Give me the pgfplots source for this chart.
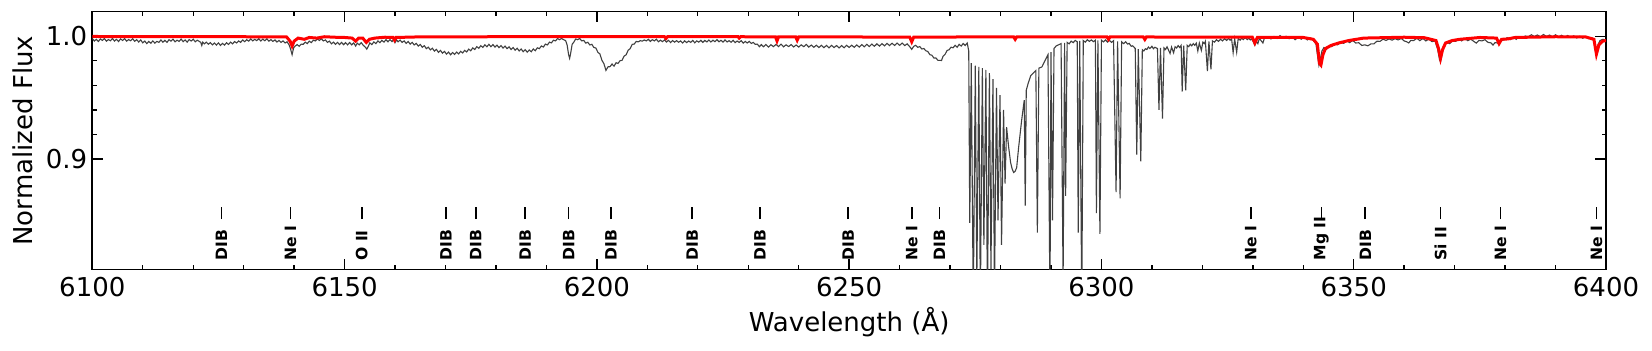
\documentclass[border=0pt]{standalone}
\usepackage{pgfplots}
\pgfplotsset{compat=1.18}
\usepackage{fontspec}
\setmainfont{DejaVu Sans}
\definecolor{specgray}{HTML}{404040}

% line marker + rotated label below it
\newcommand{\lbl}[2]{%
  \draw[black, line width=0.85pt] (axis cs:#1,0.851) -- (axis cs:#1,0.861);
  \node[rotate=90, anchor=west, inner sep=0pt, font=\fontsize{7.8}{9}\selectfont\bfseries] at (axis cs:#1,0.8170) {#2};
}

\begin{document}
\begin{tikzpicture}
\useasboundingbox (-46.15pt,-40.75pt) rectangle (779.85pt,134.75pt);
\begin{axis}[
  at={(0,0)}, anchor=south west,
  scale only axis,
  width=756.85pt, height=128.9pt,
  xmin=6100, xmax=6400, ymin=0.81, ymax=1.02,
  xtick={6100,6150,...,6400}, ytick={0.9,1.0},
  minor x tick num=4, minor y tick num=4,
  tick align=inside, xtick pos=both, ytick pos=both,
  major tick length=5.35pt, minor tick length=2.25pt,
  axis line style={line width=0.8pt},
  every tick/.style={black, line width=0.7pt},
  clip mode=individual,
  tick label style={font=\fontsize{13}{15}\selectfont, /pgf/number format/assume math mode=true},
  xticklabel style={/pgf/number format/1000 sep={}, anchor=base, yshift=-13.6pt},
  yticklabel style={/pgf/number format/fixed, /pgf/number format/fixed zerofill, /pgf/number format/precision=1, anchor=east, xshift=1pt},
  xlabel={Wavelength (Å)}, ylabel={Normalized Flux},
  label style={font=\fontsize{13}{15}\selectfont},
  x label style={at={(axis description cs:0.5,0)}, anchor=base, yshift=-31.1pt},
  y label style={at={(axis description cs:-0.0458,0.5)}, anchor=center},
]
% observed spectrum
\addplot[specgray, line width=0.55pt] table {
x y
6100.0 0.9982
6100.4 0.9961
6100.8 0.9975
6101.2 0.9957
6101.6 0.9978
6102.0 0.9966
6102.4 0.9981
6102.8 0.9960
6103.2 0.9973
6103.6 0.9963
6104.0 0.9982
6104.4 0.9961
6104.8 0.9975
6105.2 0.9957
6105.6 0.9978
6106.0 0.9966
6106.4 0.9981
6106.8 0.9960
6107.2 0.9973
6107.6 0.9963
6108.0 0.9980
6108.4 0.9959
6108.8 0.9972
6109.2 0.9953
6109.6 0.9970
6110.0 0.9946
6110.4 0.9961
6110.8 0.9940
6111.2 0.9958
6111.6 0.9943
6112.0 0.9962
6112.4 0.9944
6112.8 0.9958
6113.2 0.9950
6113.6 0.9970
6114.0 0.9951
6114.4 0.9967
6114.8 0.9950
6115.2 0.9972
6115.6 0.9960
6116.0 0.9976
6116.4 0.9955
6116.8 0.9968
6117.2 0.9958
6117.6 0.9977
6118.0 0.9956
6118.4 0.9970
6118.8 0.9952
6119.2 0.9973
6119.6 0.9961
6120.0 0.9976
6120.4 0.9955
6120.8 0.9968
6121.2 0.9958
6121.5 0.9950
6121.7 0.9925
6121.9 0.9952
6122.2 0.9938
6122.6 0.9952
6123.0 0.9935
6123.4 0.9948
6123.8 0.9930
6124.2 0.9945
6124.6 0.9928
6125.0 0.9946
6125.4 0.9925
6125.8 0.9942
6126.2 0.9928
6126.6 0.9947
6127.0 0.9933
6127.4 0.9952
6127.8 0.9938
6128.2 0.9957
6128.6 0.9945
6129.0 0.9962
6129.4 0.9950
6129.8 0.9970
6130.2 0.9956
6130.6 0.9972
6131.0 0.9960
6131.4 0.9978
6131.8 0.9962
6132.2 0.9975
6132.6 0.9964
6133.0 0.9980
6133.4 0.9961
6133.8 0.9977
6134.2 0.9963
6134.6 0.9979
6135.0 0.9960
6135.4 0.9972
6135.8 0.9958
6136.2 0.9970
6136.6 0.9953
6137.0 0.9966
6137.4 0.9950
6137.8 0.9962
6138.2 0.9945
6138.6 0.9955
6139.0 0.9930
6139.3 0.9895
6139.6 0.9850
6139.9 0.9905
6140.2 0.9920
6140.6 0.9932
6141.0 0.9918
6141.4 0.9936
6141.8 0.9934
6142.2 0.9952
6142.6 0.9940
6143.0 0.9960
6143.4 0.9948
6143.8 0.9968
6144.2 0.9962
6144.6 0.9978
6145.0 0.9966
6145.4 0.9979
6145.8 0.9962
6146.2 0.9970
6146.6 0.9950
6147.0 0.9960
6147.4 0.9938
6147.8 0.9952
6148.2 0.9934
6148.6 0.9950
6149.0 0.9932
6149.4 0.9950
6149.8 0.9931
6150.2 0.9948
6150.6 0.9930
6151.0 0.9949
6151.4 0.9930
6151.8 0.9946
6152.2 0.9920
6152.5 0.9944
6152.9 0.9930
6153.3 0.9948
6153.7 0.9926
6154.1 0.9912
6154.4 0.9895
6154.7 0.9918
6155.0 0.9946
6155.4 0.9932
6155.8 0.9954
6156.2 0.9940
6156.6 0.9962
6157.0 0.9948
6157.4 0.9967
6157.8 0.9952
6158.2 0.9972
6158.6 0.9955
6159.0 0.9973
6159.4 0.9957
6159.8 0.9974
6160.0 0.9948
6160.3 0.9971
6160.6 0.9955
6161.0 0.9969
6161.4 0.9950
6161.8 0.9962
6162.2 0.9942
6162.6 0.9957
6163.0 0.9936
6163.4 0.9950
6163.8 0.9929
6164.2 0.9942
6164.6 0.9920
6165.0 0.9933
6165.4 0.9910
6165.8 0.9923
6166.2 0.9899
6166.6 0.9911
6167.0 0.9889
6167.4 0.9902
6167.8 0.9879
6168.2 0.9893
6168.6 0.9869
6169.0 0.9885
6169.4 0.9862
6169.8 0.9877
6170.2 0.9854
6170.6 0.9871
6171.0 0.9849
6171.4 0.9867
6171.8 0.9852
6172.2 0.9871
6172.6 0.9856
6173.0 0.9877
6173.4 0.9864
6173.8 0.9885
6174.2 0.9872
6174.6 0.9895
6175.0 0.9882
6175.4 0.9905
6175.8 0.9892
6176.2 0.9915
6176.6 0.9902
6177.0 0.9923
6177.4 0.9909
6177.8 0.9930
6178.2 0.9914
6178.6 0.9934
6179.0 0.9915
6179.4 0.9932
6179.8 0.9912
6180.2 0.9928
6180.6 0.9907
6181.0 0.9924
6181.4 0.9904
6181.8 0.9920
6182.2 0.9899
6182.6 0.9914
6183.0 0.9892
6183.4 0.9908
6183.8 0.9886
6184.2 0.9902
6184.6 0.9880
6185.0 0.9896
6185.4 0.9874
6185.8 0.9890
6186.2 0.9870
6186.6 0.9888
6187.0 0.9874
6187.4 0.9896
6187.8 0.9882
6188.2 0.9906
6188.6 0.9899
6189.0 0.9921
6189.4 0.9912
6189.8 0.9936
6190.2 0.9929
6190.6 0.9952
6191.0 0.9946
6191.4 0.9968
6191.8 0.9962
6192.2 0.9981
6192.6 0.9972
6193.0 0.9982
6193.4 0.9972
6193.8 0.9965
6194.1 0.9930
6194.4 0.9850
6194.6 0.9820
6194.8 0.9860
6195.1 0.9935
6195.4 0.9950
6195.8 0.9978
6196.2 0.9972
6196.6 0.9982
6197.0 0.9962
6197.4 0.9966
6197.8 0.9944
6198.2 0.9951
6198.6 0.9929
6199.0 0.9934
6199.4 0.9909
6199.8 0.9904
6200.2 0.9869
6200.6 0.9856
6201.0 0.9804
6201.4 0.9776
6201.8 0.9722
6202.2 0.9751
6202.6 0.9752
6203.0 0.9774
6203.4 0.9756
6203.8 0.9784
6204.2 0.9779
6204.6 0.9801
6205.0 0.9804
6205.4 0.9838
6205.8 0.9849
6206.2 0.9886
6206.6 0.9899
6207.0 0.9934
6207.4 0.9936
6207.8 0.9958
6208.2 0.9954
6208.6 0.9964
6209.0 0.9960
6209.4 0.9970
6209.8 0.9962
6210.2 0.9975
6210.6 0.9958
6211.0 0.9972
6211.4 0.9962
6211.8 0.9976
6212.2 0.9955
6212.6 0.9968
6213.0 0.9956
6213.4 0.9970
6213.8 0.9953
6214.2 0.9967
6214.6 0.9949
6215.0 0.9965
6215.4 0.9952
6215.8 0.9964
6216.2 0.9951
6216.6 0.9962
6217.0 0.9945
6217.4 0.9963
6217.8 0.9948
6218.2 0.9961
6218.6 0.9950
6219.0 0.9966
6219.4 0.9947
6219.8 0.9962
6220.2 0.9952
6220.6 0.9967
6221.0 0.9950
6221.4 0.9966
6221.8 0.9954
6222.2 0.9970
6222.6 0.9953
6223.0 0.9968
6223.4 0.9956
6223.8 0.9972
6224.2 0.9955
6224.6 0.9967
6225.0 0.9952
6225.4 0.9970
6225.8 0.9953
6226.2 0.9964
6226.6 0.9951
6227.0 0.9967
6227.4 0.9948
6227.8 0.9961
6228.2 0.9950
6228.6 0.9964
6229.0 0.9944
6229.4 0.9958
6229.8 0.9945
6230.2 0.9958
6230.6 0.9941
6231.0 0.9950
6231.4 0.9934
6231.8 0.9936
6232.2 0.9915
6232.6 0.9932
6233.0 0.9914
6233.5 0.9933
6234.0 0.9912
6234.5 0.9931
6235.0 0.9915
6235.5 0.9934
6236.0 0.9916
6236.5 0.9935
6237.0 0.9914
6237.5 0.9930
6238.0 0.9916
6238.5 0.9932
6239.0 0.9913
6239.5 0.9929
6240.0 0.9912
6240.5 0.9930
6241.0 0.9915
6241.5 0.9933
6242.0 0.9912
6242.5 0.9928
6243.0 0.9910
6243.5 0.9927
6244.0 0.9908
6244.5 0.9926
6245.0 0.9907
6245.5 0.9925
6246.0 0.9906
6246.5 0.9926
6247.0 0.9908
6247.5 0.9924
6248.0 0.9905
6248.5 0.9924
6249.0 0.9906
6249.5 0.9926
6250.0 0.9909
6250.5 0.9927
6251.0 0.9910
6251.5 0.9929
6252.0 0.9912
6252.5 0.9932
6253.0 0.9914
6253.5 0.9934
6254.0 0.9916
6254.5 0.9936
6255.0 0.9918
6255.5 0.9938
6256.0 0.9920
6256.5 0.9940
6257.0 0.9922
6257.5 0.9942
6258.0 0.9924
6258.5 0.9943
6259.0 0.9925
6259.5 0.9944
6260.0 0.9926
6260.5 0.9944
6261.0 0.9924
6261.5 0.9938
6262.0 0.9915
6262.4 0.9893
6262.8 0.9918
6263.2 0.9926
6263.6 0.9910
6264.0 0.9916
6264.4 0.9896
6264.8 0.9900
6265.2 0.9882
6265.6 0.9875
6266.0 0.9850
6266.4 0.9845
6266.8 0.9822
6267.2 0.9823
6267.6 0.9803
6268.0 0.9804
6268.3 0.9802
6268.6 0.9836
6269.0 0.9852
6269.4 0.9884
6269.8 0.9890
6270.2 0.9911
6270.6 0.9906
6271.0 0.9926
6271.4 0.9910
6271.8 0.9934
6272.2 0.9920
6272.6 0.9941
6273.0 0.9925
6273.4 0.9945
6273.7 0.9880
6273.9 0.8480
6274.2 0.9780
6274.6 0.7800
6275.0 0.9760
6275.3 0.8000
6275.7 0.9750
6276.0 0.7800
6276.4 0.9740
6276.7 0.8300
6277.1 0.9725
6277.4 0.7800
6277.8 0.9700
6278.1 0.8100
6278.5 0.9650
6278.8 0.7900
6279.2 0.9580
6279.5 0.8500
6279.9 0.9520
6280.2 0.8300
6280.6 0.9400
6280.9 0.8800
6281.2 0.9260
6281.6 0.9100
6282.0 0.8970
6282.3 0.8920
6282.6 0.8890
6282.9 0.8900
6283.2 0.8930
6283.6 0.9100
6284.2 0.9320
6284.7 0.9480
6284.9 0.8620
6285.1 0.9560
6285.5 0.9620
6286.0 0.9680
6286.5 0.9700
6287.0 0.9720
6287.3 0.8400
6287.6 0.9740
6288.2 0.9750
6288.8 0.9800
6289.4 0.9850
6289.8 0.7800
6290.0 0.9870
6290.3 0.8500
6290.6 0.9900
6291.0 0.9920
6291.5 0.9930
6292.0 0.9940
6292.4 0.8000
6292.7 0.9945
6292.9 0.8700
6293.2 0.9950
6293.6 0.9938
6294.0 0.9960
6294.4 0.9948
6294.8 0.9966
6295.2 0.9955
6295.4 0.8400
6295.7 0.9963
6296.1 0.7800
6296.4 0.9965
6296.8 0.9952
6297.2 0.9972
6297.6 0.9958
6298.0 0.9970
6298.4 0.9956
6298.8 0.9968
6299.0 0.8560
6299.3 0.9966
6299.7 0.8390
6300.0 0.9968
6300.4 0.9954
6300.8 0.9970
6301.2 0.9952
6301.6 0.9966
6302.0 0.9950
6302.4 0.9964
6302.9 0.8730
6303.2 0.9958
6303.7 0.8680
6304.0 0.9955
6304.4 0.9940
6304.8 0.9955
6305.2 0.9936
6305.5 0.9942
6305.9 0.9918
6306.2 0.9922
6306.7 0.9900
6307.0 0.9035
6307.3 0.9895
6307.8 0.8980
6308.1 0.9890
6308.4 0.9880
6308.7 0.9898
6309.0 0.9892
6309.3 0.9912
6309.6 0.9900
6310.0 0.9918
6310.3 0.9898
6310.6 0.9910
6311.1 0.9900
6311.4 0.9400
6311.7 0.9905
6312.1 0.9330
6312.4 0.9905
6312.7 0.9892
6313.0 0.9914
6313.6 0.9860
6313.9 0.9912
6314.3 0.9865
6314.6 0.9915
6314.9 0.9904
6315.2 0.9924
6315.5 0.9908
6315.8 0.9926
6316.0 0.9550
6316.3 0.9924
6316.7 0.9560
6317.0 0.9926
6317.3 0.9915
6317.6 0.9935
6317.9 0.9922
6318.2 0.9940
6318.5 0.9926
6318.8 0.9944
6319.1 0.9880
6319.4 0.9945
6319.8 0.9885
6320.1 0.9952
6320.4 0.9940
6320.6 0.9958
6321.0 0.9716
6321.3 0.9958
6321.7 0.9730
6322.0 0.9962
6322.4 0.9952
6322.8 0.9972
6323.2 0.9958
6323.6 0.9976
6324.0 0.9962
6324.4 0.9980
6324.8 0.9966
6325.2 0.9982
6325.5 0.9968
6325.8 0.9978
6326.1 0.9867
6326.4 0.9978
6326.8 0.9870
6327.1 0.9980
6327.5 0.9968
6327.8 0.9986
6328.1 0.9972
6328.5 0.9988
6328.9 0.9972
6329.2 0.9984
6329.5 0.9970
6329.8 0.9976
6330.1 0.9955
6330.4 0.9927
6330.7 0.9958
6331.0 0.9940
6331.3 0.9982
6332.0 0.9945
6332.3 0.9985
6333.0 0.9995
6333.6 0.9978
6334.2 0.9998
6334.8 0.9982
6335.4 1.0005
6336.0 0.9984
6336.6 1.0000
6337.2 0.9980
6337.8 0.9996
6338.4 0.9972
6339.0 0.9993
6339.6 0.9976
6340.2 0.9992
6340.8 0.9970
6341.4 0.9986
6342.0 0.9965
6342.5 0.9940
6342.8 0.9850
6343.1 0.9765
6343.4 0.9820
6343.7 0.9880
6344.1 0.9908
6344.6 0.9893
6345.1 0.9920
6345.6 0.9915
6346.2 0.9938
6346.8 0.9930
6347.4 0.9950
6348.0 0.9942
6348.6 0.9963
6349.2 0.9948
6349.8 0.9966
6350.4 0.9945
6351.0 0.9947
6351.6 0.9925
6352.2 0.9930
6352.8 0.9922
6353.4 0.9938
6354.0 0.9938
6354.6 0.9960
6355.2 0.9958
6355.8 0.9976
6356.4 0.9966
6357.0 0.9978
6357.6 0.9968
6358.2 0.9980
6358.8 0.9970
6359.4 0.9982
6360.0 0.9962
6360.5 0.9955
6360.9 0.9945
6361.3 0.9966
6361.9 0.9965
6362.5 0.9984
6363.1 0.9964
6363.7 0.9982
6364.3 0.9962
6364.9 0.9977
6365.5 0.9956
6366.1 0.9962
6366.6 0.9900
6367.0 0.9810
6367.2 0.9790
6367.5 0.9850
6367.9 0.9930
6368.4 0.9952
6369.0 0.9940
6369.6 0.9962
6370.2 0.9958
6370.8 0.9978
6371.4 0.9962
6372.0 0.9982
6372.6 0.9964
6373.2 0.9976
6373.8 0.9958
6374.3 0.9944
6374.8 0.9966
6375.4 0.9962
6376.0 0.9972
6376.6 0.9950
6377.2 0.9946
6377.6 0.9928
6378.0 0.9948
6378.4 0.9946
6378.8 0.9938
6379.2 0.9965
6379.8 0.9970
6380.4 0.9988
6381.0 0.9972
6381.6 0.9992
6382.2 0.9975
6382.8 0.9996
6383.4 0.9990
6384.0 1.0002
6384.6 0.9996
6385.2 1.0012
6385.8 0.9998
6386.4 1.0010
6387.0 0.9996
6387.6 1.0014
6388.2 0.9998
6388.8 1.0010
6389.4 0.9995
6390.0 1.0012
6390.6 0.9994
6391.2 1.0008
6391.8 0.9992
6392.4 1.0006
6393.0 0.9990
6393.6 1.0003
6394.2 0.9986
6394.8 1.0000
6395.4 0.9984
6396.0 0.9996
6396.6 0.9980
6397.2 0.9988
6397.6 0.9960
6397.9 0.9920
6398.1 0.9880
6398.4 0.9930
6398.8 0.9965
6399.4 0.9975
6400.0 0.9962
};
% model spectrum
\addplot[red, line width=1.5pt] table {
x y
6100.0 0.9998
6130.0 0.9996
6138.5 0.9994
6139.2 0.9960
6139.6 0.9920
6140.0 0.9960
6140.8 0.9985
6142.0 0.9975
6143.0 0.9990
6144.5 0.9985
6146.0 0.9996
6148.0 0.9992
6150.0 0.9990
6151.5 0.9985
6152.2 0.9960
6152.8 0.9985
6153.6 0.9985
6154.3 0.9950
6154.9 0.9975
6156.0 0.9985
6158.0 0.9992
6159.6 0.9990
6159.9 0.9968
6160.2 0.9990
6165.0 0.9995
6180.0 0.9996
6213.4 0.9996
6213.7 0.9982
6214.0 0.9996
6228.0 0.9996
6228.2 0.9985
6228.5 0.9996
6235.4 0.9995
6235.7 0.9962
6236.0 0.9995
6239.4 0.9995
6239.7 0.9968
6240.0 0.9995
6262.0 0.9993
6262.4 0.9955
6262.8 0.9993
6282.6 0.9995
6282.9 0.9975
6283.2 0.9995
6301.1 0.9995
6301.4 0.9975
6301.7 0.9995
6308.3 0.9994
6308.6 0.9974
6308.9 0.9994
6329.9 0.9992
6330.4 0.9945
6330.9 0.9990
6340.0 0.9990
6342.0 0.9975
6342.8 0.9935
6343.2 0.9780
6343.5 0.9765
6343.9 0.9850
6344.4 0.9900
6345.5 0.9925
6347.0 0.9945
6349.0 0.9965
6352.0 0.9985
6360.0 0.9992
6364.0 0.9988
6366.3 0.9965
6366.8 0.9900
6367.2 0.9820
6367.6 0.9890
6368.2 0.9945
6369.5 0.9965
6371.0 0.9975
6375.0 0.9990
6378.3 0.9985
6378.8 0.9940
6379.3 0.9975
6380.5 0.9978
6382.0 0.9990
6390.0 0.9996
6396.0 0.9994
6397.6 0.9975
6398.1 0.9854
6398.6 0.9930
6399.3 0.9960
6400.0 0.9965
};
\lbl{6125.6}{DIB}
\lbl{6139.3}{Ne I}
\lbl{6153.4}{O II}
\lbl{6170.1}{DIB}
\lbl{6176.0}{DIB}
\lbl{6185.8}{DIB}
\lbl{6194.4}{DIB}
\lbl{6202.8}{DIB}
\lbl{6218.9}{DIB}
\lbl{6232.3}{DIB}
\lbl{6249.8}{DIB}
\lbl{6262.4}{Ne I}
\lbl{6267.9}{DIB}
\lbl{6329.6}{Ne I}
\lbl{6343.6}{Mg II}
\lbl{6352.3}{DIB}
\lbl{6367.2}{Si II}
\lbl{6379.1}{Ne I}
\lbl{6398.1}{Ne I}
\end{axis}
\end{tikzpicture}
\end{document}
